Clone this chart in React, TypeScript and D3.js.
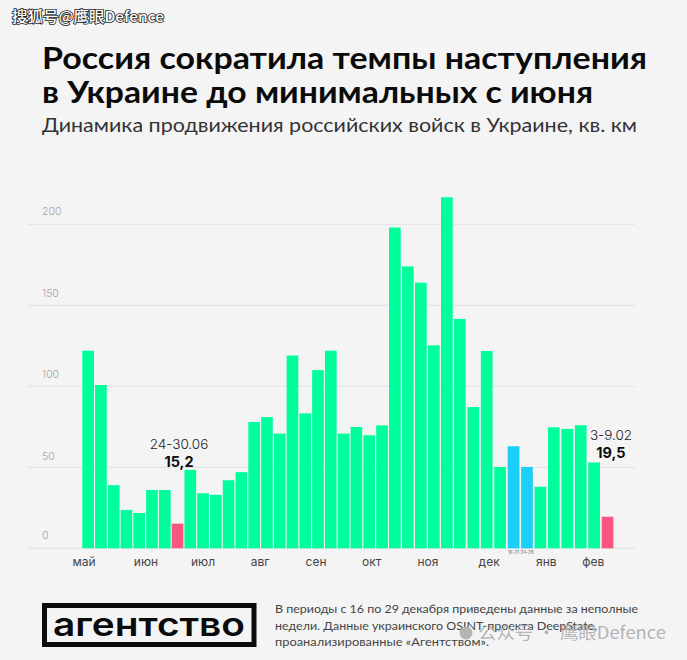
import React from "react";
import * as d3 from "d3";

const titleLines = ["Россия сократила темпы наступления", "в Украине до минимальных с июня"];
const subtitle = "Динамика продвижения российских войск в Украине, кв. км";
const values = [122, 100.8, 39, 23.7, 21.8, 36, 36, 15.2, 48.4, 34, 33, 42, 47, 78, 81, 70.8, 119, 83.3, 110, 122, 70.8,
  74.9, 69.8, 75.9, 198, 174, 164, 125.3, 216.7, 141.6, 87.2, 121.8, 50.2, 63, 50.2, 38, 74.7, 73.7, 76, 53, 19.5];
const pinkIndexes = [7, 40];
const blueIndexes = [33, 34];
const yTicks = [0, 50, 100, 150, 200];
const monthLabels = ["май", "июн", "июл", "авг", "сен", "окт", "ноя", "дек", "янв", "фев"];
const monthPositions = [-0.32, 4.53, 9.0, 13.46, 17.85, 22.2, 26.55, 31.18, 35.44, 38.94];
const footnote = [
  "В периоды с 16 по 29 декабря приведены данные за неполные",
  "недели. Данные украинского OSINT-проекта DeepState,",
  "проанализированные «Агентством».",
];
const blueLabels = ["16-21", "24-29"];

const FONT = "Inter, 'Open Sans', sans-serif";
const TITLE_FONT = "Lato, 'Open Sans', sans-serif";
const GREEN = "#00ff9c";
const PINK = "#f9577f";
const BLUE = "#1ccffb";
const BAR_WIDTH = 11.7;

export default function App() {
  const x = d3.scaleLinear().domain([0, 20, 24, 29, 40]).range([82.3, 337.7, 389, 454, 601.7]);
  const y = d3.scaleLinear().domain([0, 200]).range([548.3, 224.3]);
  const yLabel = d3.scaleLinear().domain([0, 50, 100, 150, 200]).range([539, 460, 378, 297, 214.5]);
  const cx = (i: number) => x(i) + BAR_WIDTH / 2;
  const color = (i: number) => (pinkIndexes.includes(i) ? PINK : blueIndexes.includes(i) ? BLUE : GREEN);
  return (
    <svg width={687} height={660} viewBox="0 0 687 660"
      style={{ position: "absolute", left: 0, top: 0, background: "#f4f4f5", display: "block" }}>
      <text x={12} y={22} fontFamily="'Noto Sans CJK SC', sans-serif" fontSize={14.5} fontWeight={500}
        fill="#fff" stroke="#222" strokeWidth={1.6} paintOrder="stroke" textLength={152} lengthAdjust="spacingAndGlyphs">搜狐号@鹰眼Defence</text>

      {titleLines.map((t, i) => (
        <text key={t} x={42} y={69 + i * 34} fontFamily={TITLE_FONT} fontSize={31} fontWeight={700} fill="#0b0b0b"
          textLength={i === 0 ? 605 : 551} lengthAdjust="spacingAndGlyphs">{t}</text>
      ))}
      <text x={42} y={132} fontFamily={TITLE_FONT} fontSize={20} fill="#333" textLength={595} lengthAdjust="spacingAndGlyphs">{subtitle}</text>

      {yTicks.map((t) => (
        <g key={t}>
          <line x1={28} x2={635} y1={y(t)} y2={y(t)} stroke="#e2e2e3" strokeWidth={1} />
          <text x={42} y={yLabel(t)} fontFamily={FONT} fontSize={10.5} fontWeight={300} fill="#a3a3a3">{t}</text>
        </g>
      ))}

      {values.map((v, i) => (
        <rect key={i} x={x(i)} y={y(v)} width={BAR_WIDTH} height={y(0) - y(v)} fill={color(i)} />
      ))}

      {blueIndexes.map((b, i) => (
        <text key={b} x={cx(b)} y={554} textAnchor="middle" fontFamily={FONT} fontSize={4.5} fill="#666">{blueLabels[i]}</text>
      ))}

      {monthLabels.map((m, i) => (
        <text key={m} x={cx(monthPositions[i])} y={566} textAnchor="middle" fontFamily={FONT} fontSize={12} fill="#444">{m}</text>
      ))}

      <text x={179} y={449} textAnchor="middle" fontFamily={FONT} fontSize={13.5} fontWeight={300} fill="#222">24-30.06</text>
      <text x={179} y={467} textAnchor="middle" fontFamily={FONT} fontSize={14.5} fontWeight={700} fill="#0b0b0b">15,2</text>
      <text x={611} y={440} textAnchor="middle" fontFamily={FONT} fontSize={13.5} fontWeight={300} fill="#222">3-9.02</text>
      <text x={611} y={458} textAnchor="middle" fontFamily={FONT} fontSize={14.5} fontWeight={700} fill="#0b0b0b">19,5</text>

      <rect x={44.5} y={605.5} width={209.5} height={39} fill="none" stroke="#0b0b0b" strokeWidth={5} />
      <text x={149} y={636} textAnchor="middle" fontFamily="Inter, sans-serif" fontSize={32} fontWeight={600} fill="#0b0b0b"
        textLength={192} lengthAdjust="spacingAndGlyphs">агентство</text>

      {footnote.map((l, i) => (
        <text key={l} x={275} y={613 + i * 16.5} fontFamily={TITLE_FONT} fontSize={11.8} fill="#444"
          textLength={[363, 322, 214][i]} lengthAdjust="spacingAndGlyphs">{l}</text>
      ))}

      <circle cx={466} cy={633} r={6.5} fill="#b5b5b5" />
      <text x={478} y={639} fontFamily="'Noto Sans CJK SC', sans-serif" fontSize={17} fill="#a8a8a8" fillOpacity={0.85}
        textLength={188} lengthAdjust="spacingAndGlyphs">公众号 · 鹰眼Defence</text>
    </svg>
  );
}
